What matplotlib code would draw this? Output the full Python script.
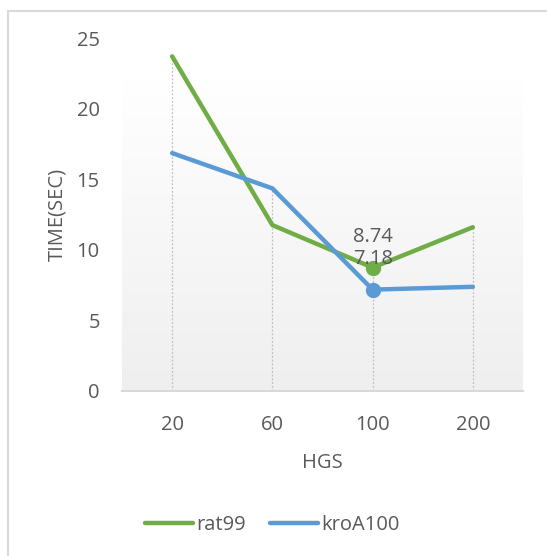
import numpy as np
import matplotlib
matplotlib.use("Agg")
import matplotlib.pyplot as plt
from matplotlib.patches import Rectangle
from matplotlib.lines import Line2D

# Data
hgs = ["20", "60", "100", "200"]
rat99 = [23.7, 11.75, 8.74, 11.6]
kroA100 = [16.85, 14.35, 7.18, 7.38]
series_names = ["rat99", "kroA100"]
y_ticks = [0, 5, 10, 15, 20, 25]

GREEN = "#70ad47"
BLUE = "#5b9bd5"
TEXT = "#595959"
FS = 14.5

plt.rcParams["font.family"] = ["Open Sans", "DejaVu Sans"]

W, H = 547, 556
fig = plt.figure(figsize=(W / 100, H / 100), dpi=100)

# Outer chart frame
frame = Rectangle((7.5 / W, -0.01), 1.05, 1 - 11.5 / H + 0.01, transform=fig.transFigure,
                  fill=False, edgecolor="#d9d9d9", linewidth=1.5, zorder=0)
fig.patches.append(frame)

left, right, bottom, top = 122, 523, 391, 38
ax = fig.add_axes([left / W, 1 - bottom / H, (right - left) / W, (bottom - top) / H])
ax.set_facecolor("none")

x = np.arange(len(hgs))
ax.set_xlim(-0.5, len(hgs) - 0.5)
ax.set_ylim(0, 25)

# Plot-area gradient fill (white at top to light grey at bottom)
grad_top = (bottom - 77) / (bottom - top)
grad = np.linspace(1, 0, 256).reshape(-1, 1)
c_top = np.array([1.0, 1.0, 1.0])
c_bot = np.array([0xef, 0xef, 0xef]) / 255
img = c_bot + (c_top - c_bot) * grad[..., None]
ax.imshow(img, extent=(0, 1, 0, grad_top), transform=ax.transAxes,
          aspect="auto", zorder=0)

# Drop lines from the highest point to the axis
for i in range(len(hgs)):
    ax.plot([x[i], x[i]], [0, max(rat99[i], kroA100[i])], color="#bfbfbf",
            linewidth=0.9, linestyle=(0, (1.5, 1.5)), zorder=1)

ax.plot(x, rat99, color=GREEN, linewidth=3.2, solid_capstyle="round", zorder=3)
ax.plot(x, kroA100, color=BLUE, linewidth=3.2, solid_capstyle="round", zorder=3)

# Highlighted points with value labels
ax.plot([x[2]], [rat99[2]], "o", color=GREEN, markersize=10, zorder=4)
ax.plot([x[2]], [kroA100[2]], "o", color=BLUE, markersize=10, zorder=4)
ax.text(x[2], rat99[2] + 2.2, f"{rat99[2]:.2f}", ha="center", va="center",
        color=TEXT, fontsize=FS, zorder=5)
ax.text(x[2], kroA100[2] + 2.2, f"{kroA100[2]:.2f}", ha="center", va="center",
        color=TEXT, fontsize=FS, zorder=5)

for s in ["top", "right", "left"]:
    ax.spines[s].set_visible(False)
ax.spines["bottom"].set_color("#d9d9d9")
ax.spines["bottom"].set_linewidth(1.5)

ax.set_xticks(x)
ax.set_xticklabels(hgs)
ax.set_yticks(y_ticks)
ax.tick_params(axis="both", length=0, labelsize=FS, colors=TEXT)
ax.tick_params(axis="y", pad=16)
ax.tick_params(axis="x", pad=17)

ax.set_xlabel("HGS", fontsize=FS, color=TEXT, labelpad=13)
ax.set_ylabel("TIME(SEC)", fontsize=FS, color=TEXT, labelpad=7)

handles = [Line2D([], [], color=GREEN, linewidth=3.2, solid_capstyle="round"),
           Line2D([], [], color=BLUE, linewidth=3.2, solid_capstyle="round")]
fig.legend(handles, series_names, loc="center", bbox_to_anchor=(272 / W, 1 - 525 / H),
           ncol=2, frameon=False, fontsize=FS, labelcolor=TEXT,
           handlelength=2.4, handletextpad=0.15, columnspacing=1.2)

fig.savefig("out.png", dpi=100)
